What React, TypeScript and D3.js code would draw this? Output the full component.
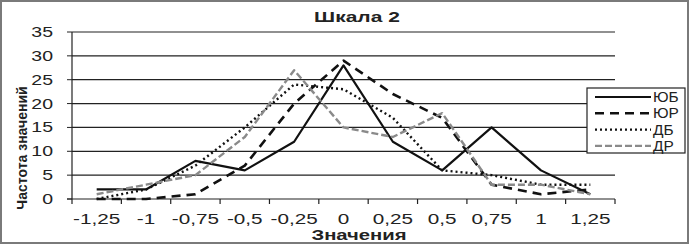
import React, { useEffect, useRef } from "react";
import * as d3 from "d3";

const categories = ["-1,25", "-1", "-0,75", "-0,5", "-0,25", "0", "0,25", "0,5", "0,75", "1", "1,25"];
const yTicks = [0, 5, 10, 15, 20, 25, 30, 35];

const seriesNames = ["ЮБ", "ЮР", "ДБ", "ДР"];
const yuB = [2, 2, 8, 6, 12, 28, 12, 6, 15, 6, 1];
const yuR = [0, 0, 1, 7, 20, 29, 22, 17, 3, 1, 2];
const dB = [0, 2, 7, 15, 24, 23, 17, 6, 5, 3, 3];
const dR = [1, 3, 5, 13, 27, 15, 13, 18, 3, 3, 1];

const W = 689;
const H = 244;

export default function App() {
  const svgRef = useRef<SVGSVGElement>(null);

  useEffect(() => {
    const svgEl = d3.select(svgRef.current);
    svgEl.selectAll("*").remove();
    const svg = svgEl.append("g");
    const font = "Liberation Sans, Arial, sans-serif";

    // the source picture is a bit stretched sideways, so text gets a scaleX
    const stretch = (tx: number, ty: number, sx: number) => `translate(${tx},${ty}) scale(${sx},1)`;

    // outer frame
    svg.append("rect")
      .attr("x", 1).attr("y", 1)
      .attr("width", W - 2).attr("height", H - 2)
      .attr("fill", "white")
      .attr("stroke", "#7a7a7a")
      .attr("stroke-width", 2);

    const x = d3.scaleBand<string>().domain(categories).range([72, 615]).padding(0);
    const y = d3.scaleLinear().domain([0, 35]).range([199, 32]);
    const cx = (c: string) => (x(c) as number) + x.bandwidth() / 2;

    // grid lines
    svg.selectAll(".grid")
      .data(yTicks.filter((t) => t > 0))
      .enter().append("line")
      .attr("x1", 72).attr("x2", 615)
      .attr("y1", (d) => y(d)).attr("y2", (d) => y(d))
      .attr("stroke", "#222")
      .attr("stroke-width", 1.2);

    // axes
    svg.append("line")
      .attr("x1", 72).attr("x2", 72)
      .attr("y1", y(35)).attr("y2", y(0))
      .attr("stroke", "#222").attr("stroke-width", 1.2);
    svg.append("line")
      .attr("x1", 67).attr("x2", 615)
      .attr("y1", y(0)).attr("y2", y(0))
      .attr("stroke", "#222").attr("stroke-width", 1.2);
    yTicks.forEach((t) => {
      svg.append("line")
        .attr("x1", 67).attr("x2", 72)
        .attr("y1", y(t)).attr("y2", y(t))
        .attr("stroke", "#222");
    });
    const bounds = categories.map((c) => x(c) as number).concat([615]);
    svg.selectAll(".xtick")
      .data(bounds)
      .enter().append("line")
      .attr("x1", (d) => d).attr("x2", (d) => d)
      .attr("y1", y(0)).attr("y2", y(0) + 5)
      .attr("stroke", "#222").attr("stroke-width", 1.2);

    // tick labels
    svg.selectAll(".ylab")
      .data(yTicks)
      .enter().append("text")
      .attr("transform", (d) => stretch(53, y(d) + 5, 1.3))
      .attr("text-anchor", "end")
      .attr("font-family", font)
      .attr("font-size", 15)
      .attr("fill", "#222")
      .text((d) => d);
    svg.selectAll(".xlab")
      .data(categories)
      .enter().append("text")
      .attr("transform", (d) => stretch(cx(d), 224, 1.38))
      .attr("text-anchor", "middle")
      .attr("font-family", font)
      .attr("font-size", 15)
      .attr("fill", "#222")
      .text((d) => d);

    // titles
    svg.append("text")
      .attr("transform", stretch(357, 22, 1.4))
      .attr("text-anchor", "middle")
      .attr("font-family", font)
      .attr("font-weight", "bold")
      .attr("font-size", 15)
      .attr("fill", "#222")
      .text("Шкала 2");
    svg.append("text")
      .attr("transform", stretch(359, 240, 1.35))
      .attr("text-anchor", "middle")
      .attr("font-family", font)
      .attr("font-weight", "bold")
      .attr("font-size", 15)
      .attr("fill", "#222")
      .text("Значения");
    svg.append("text")
      .attr("transform", "translate(27,148) rotate(-90)")
      .attr("text-anchor", "middle")
      .attr("font-family", font)
      .attr("font-size", 14)
      .attr("font-weight", "bold")
      .attr("fill", "#222")
      .text("Частота значений");

    // series
    const styles = [
      { data: yuB, color: "#111", width: 2.2, dash: null },
      { data: yuR, color: "#111", width: 2.6, dash: "9,6" },
      { data: dB, color: "#111", width: 2.4, dash: "2,3" },
      { data: dR, color: "#8a8a8a", width: 2.4, dash: "7,3" },
    ];
    const line = d3.line<number>()
      .x((d, i) => cx(categories[i]))
      .y((d) => y(d));
    styles.forEach((s) => {
      svg.append("path")
        .datum(s.data)
        .attr("d", line)
        .attr("fill", "none")
        .attr("stroke", s.color)
        .attr("stroke-width", s.width)
        .attr("stroke-dasharray", s.dash)
        .attr("stroke-linejoin", "round");
    });

    // legend
    const lg = svg.append("g");
    lg.append("rect")
      .attr("x", 587).attr("y", 88)
      .attr("width", 98).attr("height", 65)
      .attr("fill", "white")
      .attr("stroke", "#222")
      .attr("stroke-width", 1.2);
    seriesNames.forEach((name, i) => {
      const ly = 97 + i * 16.3;
      const s = styles[i];
      lg.append("line")
        .attr("x1", 595).attr("x2", 651)
        .attr("y1", ly).attr("y2", ly)
        .attr("stroke", s.color)
        .attr("stroke-width", s.width)
        .attr("stroke-dasharray", s.dash);
      lg.append("text")
        .attr("transform", stretch(653, ly + 5, 1.1))
        .attr("font-family", font)
        .attr("font-size", 14)
        .attr("fill", "#222")
        .text(name);
    });
  }, []);

  return (
    <svg
      ref={svgRef}
      width={W}
      height={H}
      style={{ position: "absolute", left: 0, top: 0 }}
    />
  );
}
